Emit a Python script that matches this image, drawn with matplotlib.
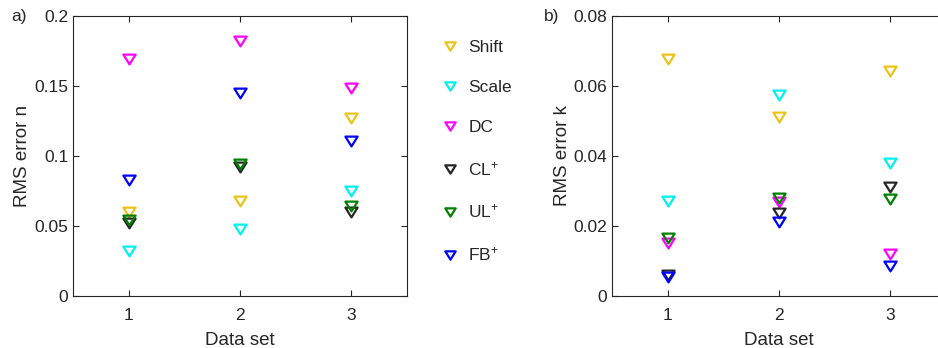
import matplotlib
matplotlib.use("Agg")
import matplotlib.pyplot as plt
from matplotlib.path import Path
import numpy as np

plt.rcParams['font.family'] = ['Liberation Sans', 'DejaVu Sans']
plt.rcParams['mathtext.fontset'] = 'custom'
plt.rcParams['mathtext.rm'] = 'Liberation Sans'
plt.rcParams['mathtext.it'] = 'Liberation Sans'

datasets = [1, 2, 3]
methods = ['Shift', 'Scale', 'DC', 'CL$^{+}$', 'UL$^{+}$', 'FB$^{+}$']
colors = ['#EDC318', '#00F0F0', '#FF00FF', '#262626', '#008000', '#0000FF']

rms_n = {
    'Shift': [0.0597, 0.0680, 0.1269],
    'Scale': [0.0323, 0.0475, 0.0751],
    'DC':    [0.1688, 0.1820, 0.1483],
    'CL':    [0.0518, 0.0922, 0.0599],
    'UL':    [0.0542, 0.0939, 0.0642],
    'FB':    [0.0827, 0.1452, 0.1107],
}
rms_k = {
    'Shift': [0.0677, 0.0512, 0.0642],
    'Scale': [0.0271, 0.0573, 0.0379],
    'DC':    [0.0150, 0.0267, 0.0120],
    'CL':    [0.0060, 0.0236, 0.0312],
    'UL':    [0.0165, 0.0279, 0.0276],
    'FB':    [0.0055, 0.0210, 0.0086],
}
keys = ['Shift', 'Scale', 'DC', 'CL', 'UL', 'FB']

tri = Path([(-1, 0.8), (1, 0.8), (0, -0.8), (-1, 0.8)],
           [Path.MOVETO, Path.LINETO, Path.LINETO, Path.CLOSEPOLY])

txt = '#262626'
fig = plt.figure(figsize=(9.38, 3.48), dpi=100)
ax1 = fig.add_axes([73/938, 52/348, 334/938, 280.3/348])
ax2 = fig.add_axes([612/938, 52/348, 334/938, 280.3/348])

def style(ax, ylim, yticks, yticklabels, ylabel):
    ax.set_xlim(0.5, 3.5)
    ax.set_ylim(*ylim)
    ax.set_xticks(datasets)
    ax.set_yticks(yticks)
    ax.set_yticklabels(yticklabels)
    ax.tick_params(direction='in', top=True, right=True, length=4,
                   width=0.8, colors=txt, labelsize=12.5, labelcolor=txt)
    ax.tick_params(axis='y', pad=3.5)
    ax.tick_params(axis='x', pad=9)
    for s in ax.spines.values():
        s.set_color(txt)
        s.set_linewidth(0.8)
    ax.set_xlabel('Data set', fontsize=13.5, color=txt, labelpad=6)
    ax.set_ylabel(ylabel, fontsize=13.5, color=txt, labelpad=2)

handles = []
for key, lab, c in zip(keys, methods, colors):
    h, = ax1.plot(datasets, rms_n[key], linestyle='none', marker=tri,
                  ms=8.8, mew=1.6, mfc='none', mec=c, label=lab)
    handles.append(h)
    ax2.plot(datasets, rms_k[key], linestyle='none', marker=tri,
             ms=8.8, mew=1.6, mfc='none', mec=c, label=lab)

style(ax1, (0, 0.2), [0, 0.05, 0.1, 0.15, 0.2],
      ['0', '0.05', '0.1', '0.15', '0.2'], 'RMS error n')
style(ax2, (0, 0.08), [0, 0.02, 0.04, 0.06, 0.08],
      ['0', '0.02', '0.04', '0.06', '0.08'], 'RMS error k')

fig.text(11/938, 1 - 16/348, 'a)', fontsize=12.5, color=txt, va='center', ha='left')
fig.text(544/938, 1 - 16/348, 'b)', fontsize=12.5, color=txt, va='center', ha='left')

leg = fig.legend(handles=handles, loc='upper left',
                 bbox_to_anchor=(441/938, 1 - 40/348), frameon=False,
                 fontsize=12.5, labelspacing=1.43, handlelength=1.0,
                 handletextpad=0.57, markerscale=0.85, labelcolor=txt,
                 borderaxespad=0, borderpad=0)

fig.savefig('out.png', dpi=100)
